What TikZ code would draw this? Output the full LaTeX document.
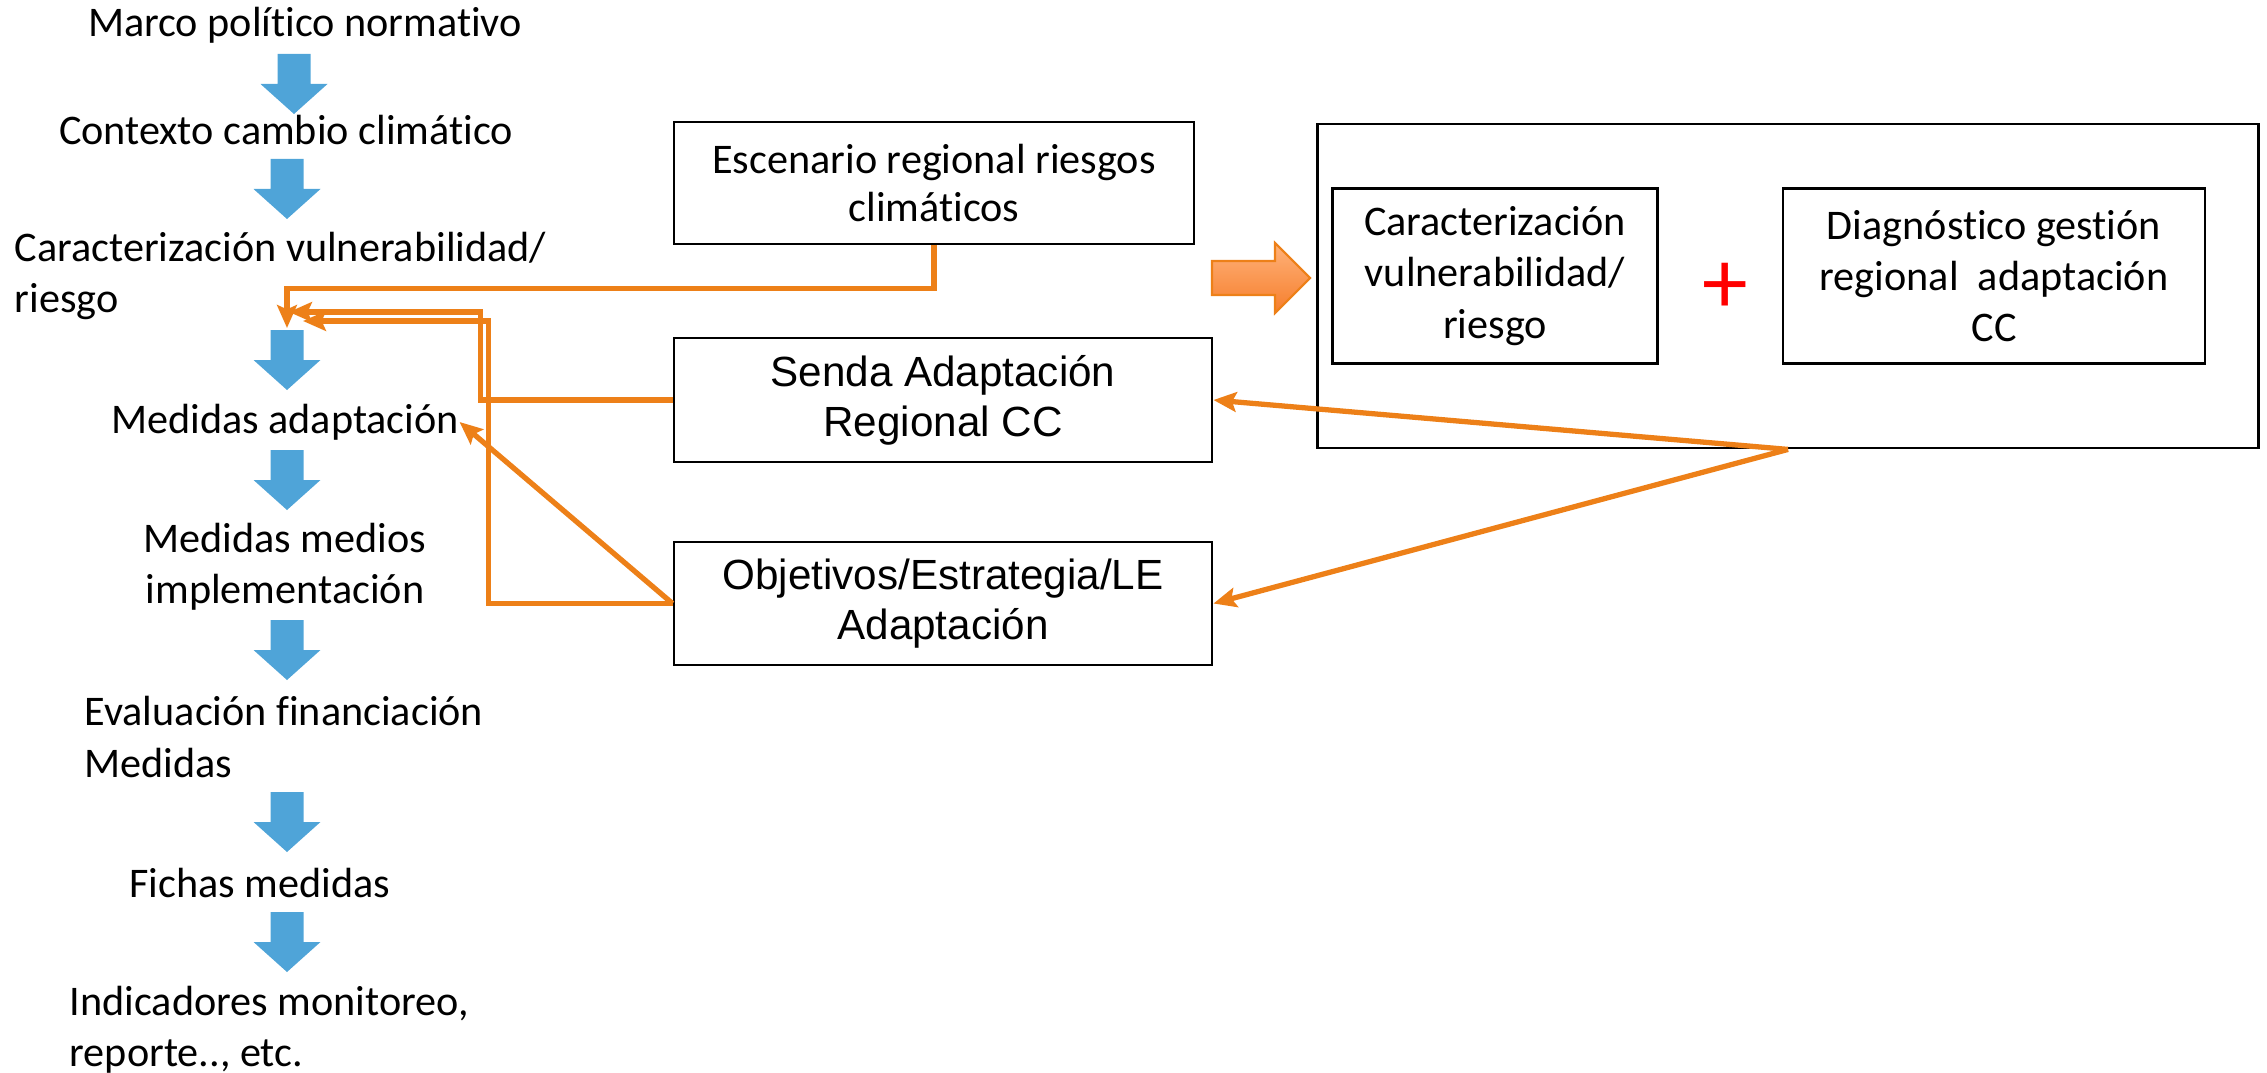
\documentclass[tikz,border=0pt]{standalone}
\usepackage{fontspec}
\setmainfont{Carlito}[Ligatures={NoCommon}]
\newfontfamily\arialfont{Liberation Sans}
\usetikzlibrary{arrows.meta}
\definecolor{connorange}{RGB}{237,128,24}
\definecolor{flowblue}{RGB}{79,164,216}
\definecolor{arrowlight}{RGB}{255,178,122}
\definecolor{arrowdark}{RGB}{246,126,44}
\definecolor{plusred}{RGB}{255,0,0}
\tikzset{
  box/.style={draw, line width=0.75pt, align=center, inner sep=0pt},
  flowtxt/.style={inner sep=0pt},
  conn/.style={draw=connorange, line width=1.5pt, -{Stealth[length=6.5pt,width=5.6pt,inset=1.2pt]}},
}
\begin{document}
\begin{tikzpicture}[x=0.01cm, y=-0.01cm, font=\fontsize{12}{14.6}\selectfont]
\useasboundingbox (0,0) rectangle (2267,1073);

\node[flowtxt] (marco) at (305,25) {Marco político normativo};
\node[flowtxt] (contexto) at (286,130) {Contexto cambio climático};
\node[flowtxt, anchor=west, align=left] (carac) at (14,276) {Caracterización vulnerabilidad/\\riesgo};
\node[flowtxt] (med) at (285,422) {Medidas adaptación};
\node[flowtxt, align=center] (medios) at (285,567) {Medidas medios\\implementación};
\node[flowtxt, anchor=west, align=left] (eval) at (84,737) {Evaluación financiación\\Medidas};
\node[flowtxt] (fichas) at (260,883) {Fichas medidas};
\node[flowtxt, anchor=west, align=left] (indic) at (69,1030) {Indicadores monitoreo,\\reporte.., etc.};

\foreach \x/\y in {294/54, 287/159, 287/330, 287/450, 287/620, 287/792, 287/912}
  \fill[flowblue] (\x-16.5,\y) -- ++(33,0) -- ++(0,30) -- ++(17,0) -- (\x,\y+60) -- (\x-33.5,\y+30) -- ++(17,0) -- cycle;

\node[box, font=\fontsize{12}{13.6}\selectfont, minimum width=5.2cm, minimum height=1.22cm] (esc) at (934,183) {Escenario regional riesgos\\climáticos};
\node[box, font=\arialfont\fontsize{12}{14.2}\selectfont, minimum width=5.38cm, minimum height=1.24cm] (senda) at (943,400) {Senda Adaptación\\Regional CC};
\node[box, font=\arialfont\fontsize{12}{14.2}\selectfont, minimum width=5.38cm, minimum height=1.23cm] (obj) at (943,603.5) {Objetivos/Estrategia/LE\\Adaptación};

\node[box, minimum width=9.4cm, minimum height=3.24cm] (marcoreg) at (1788,286) {};
\node[box, minimum width=3.25cm, minimum height=1.75cm] (carreg) at (1495,276) {Caracterización\\vulnerabilidad/\\riesgo};
\node[box, minimum width=4.22cm, minimum height=1.75cm] (diag) at (1994,276) {Diagnóstico gestión\\regional~~adaptación\\CC};
\node[flowtxt, text=plusred, font=\fontsize{26}{26}\selectfont] (plus) at (1725,288) {+};

\filldraw[draw=connorange, top color=arrowlight, bottom color=arrowdark, line width=0.6pt] (1212,261) -- (1275,261) -- (1275,243) -- (1310,278) -- (1275,313) -- (1275,295) -- (1212,295) -- cycle;

\coordinate (a3top) at (287,328);
\coordinate (in1) at (289,312);
\coordinate (in2) at (303,321);
\draw[conn] (esc.south) -- ++(0,43) -| (a3top);
\draw[conn] (senda.west) -- ++(-192,0) |- (in1);
\draw[conn] (obj.west) -- ++(-184,0) |- (in2);
\draw[conn] (obj.west) -- (med.east);
\draw[conn] (marcoreg.south) -- (senda.east);
\draw[conn] (marcoreg.south) -- (obj.east);
\end{tikzpicture}
\end{document}
